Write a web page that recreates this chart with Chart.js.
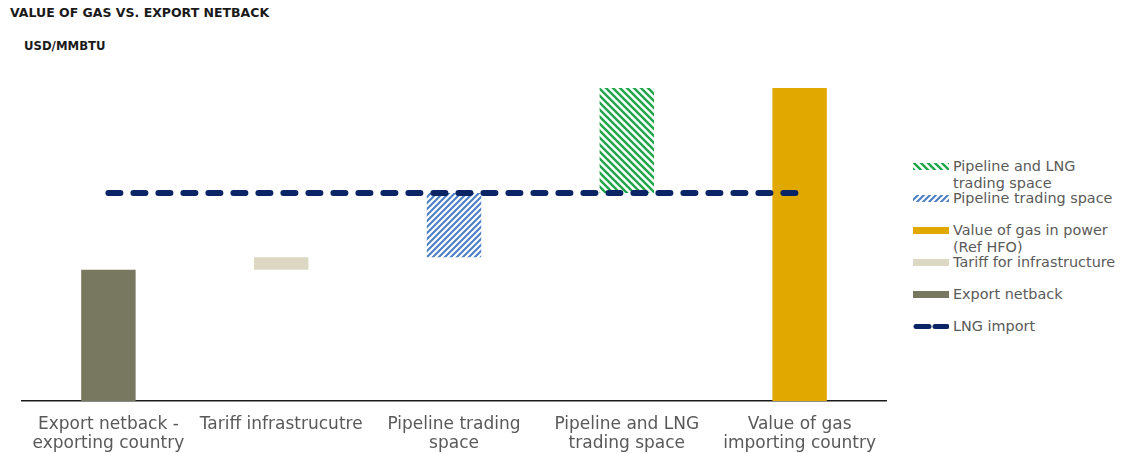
<!DOCTYPE html>
<html>
<head>
<meta charset="utf-8">
<script src="https://cdn.jsdelivr.net/npm/chart.js@4.4.0/dist/chart.umd.min.js"></script>
<style>
  body { margin: 0; background: #fff; font-family: "DejaVu Sans", Verdana, sans-serif; }
  .wrap { position: relative; width: 1122px; height: 453px; overflow: hidden; }
  .title { position: absolute; left: 10px; top: 5px; font-size: 12.5px; font-weight: bold; color: #1a1a1a; }
  .unit { position: absolute; left: 24px; top: 39px; font-size: 11.7px; font-weight: bold; color: #1a1a1a; }
  .chart-box { position: absolute; left: 0; top: 0; width: 900px; height: 468px; }
  .legend { position: absolute; left: 913px; top: 158px; }
  .legend-item { position: relative; height: 32px; padding-left: 40px; font-size: 14.4px; line-height: 17px; color: #5a5a5a; white-space: nowrap; }
  .legend-item canvas { position: absolute; left: 0; top: 4px; }
</style>
</head>
<body>
<div class="wrap">
  <div class="title">VALUE OF GAS VS. EXPORT NETBACK</div>
  <div class="unit">USD/MMBTU</div>
  <div class="chart-box"><canvas id="gas-chart"></canvas></div>
  <div class="legend" id="legend"></div>
</div>
<script>
const categories = [
  ["Export netback -", "exporting country"],
  "Tariff infrastrucutre",
  ["Pipeline trading", "space"],
  ["Pipeline and LNG", "trading space"],
  ["Value of gas", "importing country"],
];

// USD/MMBTU, floating bars are [from, to]
const exportNetback = [4.2, null, null, null, null];
const tariffInfra = [null, [4.2, 4.6], null, null, null];
const pipelineSpace = [null, null, [4.6, 6.65], null, null];
const pipelineLngSpace = [null, null, null, [6.65, 10], null];
const valueInPower = [null, null, null, null, 10];
const lngImport = [6.65, 6.65, 6.65, 6.65, 6.65];

const GREEN = "#1fa64a";
const BLUE = "#4d7fc4";
const ORANGE = "#e1a800";
const BEIGE = "#dcd8c3";
const OLIVE = "#78775f";
const NAVY = "#0b2466";

// diagonal stripe fill: "back" runs top-left to bottom-right, "fwd" the other way
function hatch(color, dir, size, width) {
  const c = document.createElement("canvas");
  c.width = size;
  c.height = size;
  const g = c.getContext("2d");
  g.strokeStyle = color;
  g.lineWidth = width;
  g.beginPath();
  if (dir === "back") {
    g.moveTo(-2, -2); g.lineTo(size + 2, size + 2);
    g.moveTo(-2, size - 2); g.lineTo(2, size + 2);
    g.moveTo(size - 2, -2); g.lineTo(size + 2, 2);
  } else {
    g.moveTo(-2, size + 2); g.lineTo(size + 2, -2);
    g.moveTo(-2, 2); g.lineTo(2, -2);
    g.moveTo(size - 2, size + 2); g.lineTo(size + 2, size - 2);
  }
  g.stroke();
  return g.createPattern(c, "repeat");
}

const greenHatch = hatch(GREEN, "back", 7, 2.4);
const blueHatch = hatch(BLUE, "fwd", 6, 2.1);

const barDefaults = {
  type: "bar",
  grouped: false,
  categoryPercentage: 1,
  barPercentage: 0.315,
  borderWidth: 0,
  order: 1,
};

const datasets = [
  { ...barDefaults, label: ["Pipeline and LNG", "trading space"], data: pipelineLngSpace, backgroundColor: greenHatch },
  { ...barDefaults, label: ["Pipeline trading space"], data: pipelineSpace, backgroundColor: blueHatch },
  { ...barDefaults, label: ["Value of gas in power", "(Ref HFO)"], data: valueInPower, backgroundColor: ORANGE },
  { ...barDefaults, label: ["Tariff for infrastructure"], data: tariffInfra, backgroundColor: BEIGE },
  { ...barDefaults, label: ["Export netback"], data: exportNetback, backgroundColor: OLIVE },
  {
    type: "line",
    label: ["LNG import"],
    data: lngImport,
    borderColor: NAVY,
    borderWidth: 6,
    borderDash: [12, 13],
    borderCapStyle: "round",
    pointRadius: 0,
    fill: false,
    order: 0,
  },
];

new Chart(document.getElementById("gas-chart"), {
  data: { labels: categories, datasets: datasets },
  options: {
    responsive: true,
    maintainAspectRatio: false,
    animation: false,
    layout: { padding: { left: 22, right: 14, top: 88, bottom: 1 } },
    plugins: {
      legend: { display: false },
      tooltip: { enabled: false },
    },
    scales: {
      x: {
        grid: { display: false, drawTicks: false },
        border: { color: "#1a1a1a", width: 1.5 },
        ticks: {
          color: "#595959",
          font: { family: "'DejaVu Sans', sans-serif", size: 17, lineHeight: 1.17 },
          padding: 13,
          maxRotation: 0,
          autoSkip: false,
        },
      },
      y: { display: false, min: 0, max: 10 },
    },
  },
});

// legend on the right, same order as the datasets
const legend = document.getElementById("legend");
datasets.forEach((ds) => {
  const item = document.createElement("div");
  item.className = "legend-item";
  const sw = document.createElement("canvas");
  sw.width = 36;
  sw.height = 9;
  const g = sw.getContext("2d");
  if (ds.type === "line") {
    g.strokeStyle = NAVY;
    g.lineWidth = 5;
    g.lineCap = "round";
    g.beginPath();
    g.moveTo(3, 4.5); g.lineTo(16, 4.5);
    g.moveTo(22, 4.5); g.lineTo(34, 4.5);
    g.stroke();
  } else {
    g.fillStyle = ds.backgroundColor;
    g.fillRect(0, 1, 36, 7);
  }
  item.appendChild(sw);
  item.insertAdjacentHTML("beforeend", ds.label.join("<br>"));
  legend.appendChild(item);
});
</script>
</body>
</html>
